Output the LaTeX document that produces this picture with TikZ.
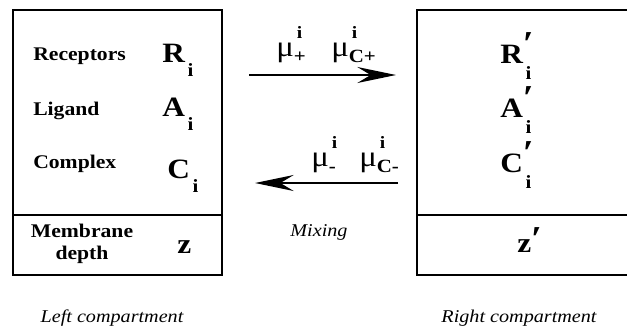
\documentclass[tikz,border=0pt]{standalone}
\usepackage{fontspec}
\setmainfont{Liberation Serif}[FakeStretch=1.12]
\usetikzlibrary{arrows.meta}
\newcommand\symL[2]{#1\hspace{2pt}\raisebox{-11pt}{\fontsize{14}{14}\selectfont #2}}
\newcommand\symP[2]{#1\rlap{\raisebox{6pt}{\scalebox{1.25}{′}}}\hspace{2pt}\raisebox{-12pt}{\fontsize{14}{14}\selectfont #2}}
\newcommand\mulab[1]{{\fontsize{22}{22}\selectfont\mdseries μ}\rlap{\raisebox{13pt}{\fontsize{13}{13}\selectfont\bfseries\,i}}\raisebox{-5pt}{\fontsize{14}{14}\selectfont\bfseries #1}}
\tikzset{
  box/.style={line width=1.5pt},
  lbl/.style={font=\fontsize{14.5}{16}\selectfont\bfseries, inner sep=0pt, anchor=base west},
  sym/.style={font=\fontsize{21}{22}\selectfont\bfseries, inner sep=0pt, anchor=base west},
  captext/.style={font=\fontsize{13.5}{15}\selectfont\itshape, inner sep=0pt, anchor=base},
  mu/.style={font=\bfseries, inner sep=0pt, anchor=base west},
  flow/.style={line width=1.6pt, -{Stealth[length=29pt,width=12pt,inset=10pt]}}
}
\begin{document}
\begin{tikzpicture}[x=0.75pt,y=-0.75pt]
\useasboundingbox (0,0) rectangle (627,333);
% left compartment
\draw[box] (13,10) rectangle (222,275);
\draw[box] (13,215) -- (222,215);
% right compartment
\draw[box] (417,10) rectangle (640,275);
\draw[box] (417,215) -- (640,215);

\node[lbl] (rec) at (33,60) {Receptors};
\node[lbl] (lig) at (33,115) {Ligand};
\node[lbl] (com) at (33,168) {Complex};
\node[lbl, align=center, anchor=center] (mem) at (82,244) {Membrane\\[0pt]depth};

\node[sym] (Ri) at (162,62) {\symL{R}{i}};
\node[sym] (Ai) at (162,116) {\symL{A}{i}};
\node[sym] (Ci) at (167,178) {\symL{C}{i}};
\node[sym] (z) at (177,253) {z};

\node[sym] (Rp) at (500,63) {\symP{R}{i}};
\node[sym] (Ap) at (500,117) {\symP{A}{i}};
\node[sym] (Cp) at (500,172) {\symP{C}{i}};
\node[sym] (zp) at (517,252) {z\rlap{\raisebox{1pt}{\scalebox{1.25}{′}}}};

% arrows
\coordinate (a1s) at (249,75);
\coordinate (a1e) at (396,75);
\coordinate (a2s) at (398,183);
\coordinate (a2e) at (255,183);
\draw[flow] (a1s) -- (a1e);
\draw[flow] (a2s) -- (a2e);

\node[mu] (mup) at (276,56) {\mulab{+}};
\node[mu] (mucp) at (331,56) {\mulab{C+}};
\node[mu] (mum) at (311,166) {\mulab{-}};
\node[mu] (mucm) at (359,166) {\mulab{C-}};

\node[captext] (mix) at (319,236) {Mixing};
\node[captext] (lc) at (112,322) {Left compartment};
\node[captext] (rc) at (519,322) {Right compartment};
\end{tikzpicture}
\end{document}
